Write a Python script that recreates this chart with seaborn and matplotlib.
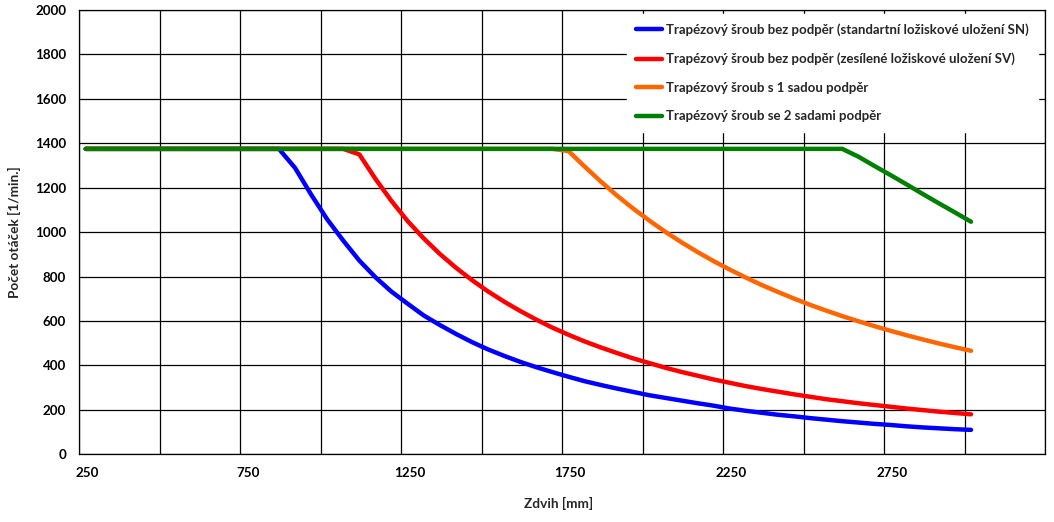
import matplotlib
matplotlib.use("Agg")
import matplotlib.pyplot as plt
import matplotlib.transforms as mtransforms
import seaborn as sns

# Zdvih [mm] / pocet otacek [1/min.]
BLUE_X = [270, 870, 920, 970, 1020, 1070, 1120, 1170, 1220, 1270, 1320, 1370, 1420,
          1470, 1520, 1570, 1620, 1670, 1720, 1770, 1820, 1870, 1920, 1970, 2020, 2070,
          2120, 2170, 2220, 2270, 2320, 2370, 2420, 2470, 2520, 2570, 2620, 2670, 2720,
          2770, 2820, 2870, 2920, 2970, 3020]
BLUE_Y = [1375, 1375, 1290, 1170, 1058, 962, 872, 797, 732, 678, 625, 582, 542,
          505, 472, 443, 416, 392, 370, 349, 329, 312, 296, 281, 266, 254,
          242, 230, 219, 206, 196, 187, 178, 171, 163, 156, 149, 143, 137,
          132, 126, 121, 117, 113, 110]

RED_X = [270, 1070, 1120, 1170, 1220, 1270, 1320, 1370, 1420, 1470, 1520, 1570, 1620,
         1670, 1720, 1770, 1820, 1870, 1920, 1970, 2020, 2070, 2120, 2170, 2220, 2270,
         2320, 2370, 2420, 2470, 2520, 2570, 2620, 2670, 2720, 2770, 2820, 2870, 2920,
         2970, 3020]
RED_Y = [1375, 1375, 1350, 1240, 1140, 1050, 972, 902, 840, 784, 733, 687, 645,
         606, 570, 538, 508, 481, 456, 432, 411, 390, 371, 354, 337, 322,
         307, 294, 282, 270, 259, 248, 239, 230, 222, 214, 206, 199, 192,
         186, 180]

ORANGE_X = [270, 1720, 1770, 1820, 1870, 1920, 1970, 2020, 2070, 2120, 2170, 2220,
            2270, 2320, 2370, 2420, 2470, 2520, 2570, 2620, 2670, 2720, 2770, 2820,
            2870, 2920, 2970, 3020]
ORANGE_Y = [1375, 1375, 1365, 1295, 1228, 1165, 1107, 1053, 1002, 955, 911, 870,
            832, 796, 762, 731, 701, 673, 647, 622, 599, 577, 556, 536,
            517, 499, 482, 466]

GREEN_X = [270, 2620, 2670, 2720, 2770, 2820, 2870, 2920, 2970, 3020]
GREEN_Y = [1375, 1375, 1340, 1298, 1257, 1215, 1172, 1130, 1089, 1047]

LABELS = [
    "Trapézový šroub bez podpěr (standartní ložiskové uložení SN)",
    "Trapézový šroub bez podpěr (zesílené ložiskové uložení SV)",
    "Trapézový šroub s 1 sadou podpěr",
    "Trapézový šroub se 2 sadami podpěr",
]
COLORS = ["#0000FF", "#FF0000", "#FF6600", "#008000"]

X_TICKS = [250, 500, 750, 1000, 1250, 1500, 1750, 2000, 2250, 2500, 2750, 3000, 3250]
X_TICK_LABELS = ["250", "", "750", "", "1250", "", "1750", "", "2250", "", "2750", "", ""]
Y_TICKS = [0, 200, 400, 600, 800, 1000, 1200, 1400, 1600, 1800, 2000]


sns.set_style("white")
plt.rcParams["font.family"] = ["Lato", "DejaVu Sans"]
plt.rcParams["font.weight"] = "bold"

fig = plt.figure(figsize=(10.54, 5.22), dpi=100)
ax = fig.add_axes([0.0752, 0.1297, 0.9163, 0.8511])

series = [(BLUE_X, BLUE_Y), (RED_X, RED_Y), (ORANGE_X, ORANGE_Y), (GREEN_X, GREEN_Y)]
for (xs, ys), color, label in zip(series, COLORS, LABELS):
    sns.lineplot(x=xs, y=ys, ax=ax, color=color, label=label, linewidth=3.2,
                 estimator=None, sort=False, zorder=3)

ax.set_xlim(250, 3250)
ax.set_ylim(0, 2000)
ax.set_xticks(X_TICKS)
ax.set_xticklabels(X_TICK_LABELS)
ax.set_yticks(Y_TICKS)
ax.grid(True, color="black", linewidth=0.9)
for spine in ax.spines.values():
    spine.set_color("black")
    spine.set_linewidth(0.9)

ax.tick_params(axis="both", direction="out", length=4.5, width=0.9, color="black",
               labelsize=9.6, labelcolor="black")
ax.tick_params(axis="x", pad=4.5)
ax.tick_params(axis="y", pad=5)
shift = mtransforms.ScaledTranslation(0.08, 0, fig.dpi_scale_trans)
for lbl in ax.get_xticklabels():
    lbl.set_transform(lbl.get_transform() + shift)
    lbl.set_fontweight("bold")
for lbl in ax.get_yticklabels():
    lbl.set_fontweight("bold")

ax.set_xlabel("Zdvih [mm]", fontsize=9.8, fontweight="bold")
ax.set_ylabel("Počet otáček [1/min.]", fontsize=9.8, fontweight="bold")
ax.xaxis.set_label_coords(0.496, -0.096)
ax.yaxis.set_label_coords(-0.060, 0.5)

leg = ax.legend(loc="upper left", bbox_to_anchor=(0.567, 0.991), frameon=True,
                fancybox=False, facecolor="white", edgecolor="white", framealpha=1,
                handlelength=1.95, handletextpad=0.3, labelspacing=1.25,
                borderpad=0.72, borderaxespad=0,
                prop={"size": 9.5, "weight": "bold"})
for line in leg.get_lines():
    line.set_linewidth(3.2)
leg.set_zorder(5)

fig.savefig("out.png", dpi=100, facecolor="white")
